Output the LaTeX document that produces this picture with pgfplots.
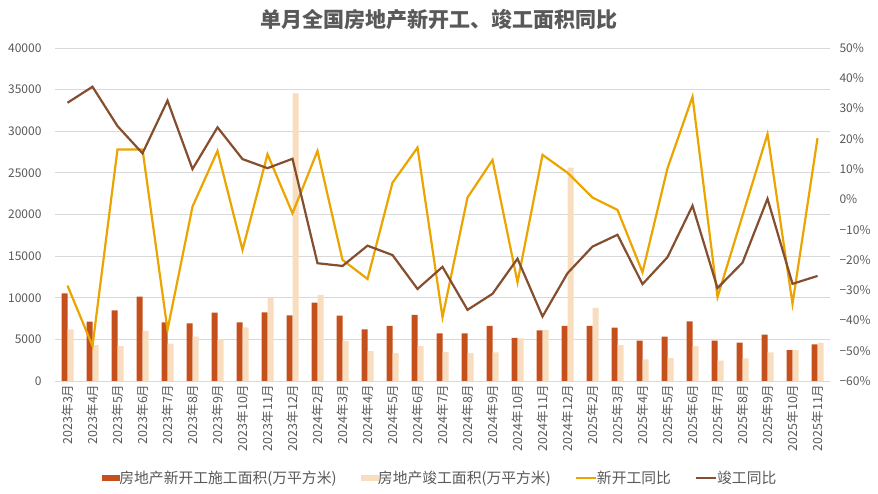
\documentclass[border=0pt]{standalone}
\usepackage{pgfplots}
\pgfplotsset{compat=1.18}
\usepackage{fontspec}
\setmainfont{Noto Sans CJK SC}
\definecolor{txt}{HTML}{595959}
\definecolor{darkbar}{HTML}{C5501C}
\definecolor{lightbar}{HTML}{F9DDBF}
\definecolor{yel}{HTML}{EBA400}
\definecolor{brn}{HTML}{844E2F}
\definecolor{gridc}{HTML}{D9D9D9}
\begin{document}
\begin{tikzpicture}
\path[use as bounding box] (0pt,0pt) rectangle (878pt,494pt);
\node[font=\fontsize{21}{24}\selectfont\bfseries, text=txt] at (439pt,474pt) {单月全国房地产新开工、竣工面积同比};
\pgfplotsset{
  common/.style={
    at={(55pt,113pt)}, anchor=south west, scale only axis,
    width=775pt, height=333pt,
    xmin=-0.5, xmax=30.5,
    major tick length=0pt,
    tick label style={text=txt},
    scaled y ticks=false,
    /pgf/number format/assume math mode=true,
  }
}
\begin{axis}[common,
  ymin=0, ymax=40000,
  ytick={0,5000,...,40000},
  yticklabels={0,5000,10000,15000,20000,25000,30000,35000,40000},
  yticklabel style={font=\fontsize{12}{14}\selectfont, xshift=-10pt},
  ymajorgrids, grid style={gridc, line width=0.8pt},
  axis line style={draw=none},
  xtick={0,...,30},
  xticklabels={2023年3月,2023年4月,2023年5月,2023年6月,2023年7月,2023年8月,2023年9月,2023年10月,2023年11月,2023年12月,2024年2月,2024年3月,2024年4月,2024年5月,2024年6月,2024年7月,2024年8月,2024年9月,2024年10月,2024年11月,2024年12月,2025年2月,2025年3月,2025年4月,2025年5月,2025年6月,2025年7月,2025年8月,2025年9月,2025年10月,2025年11月},
  xticklabel style={rotate=90, anchor=east, font=\fontsize{12.5}{14}\selectfont},
]
\addplot[ybar, bar width=6pt, bar shift=-3pt, fill=darkbar, draw=none] coordinates {
(0,10530)(1,7130)(2,8490)(3,10130)(4,7050)(5,6930)(6,8210)(7,7050)(8,8250)(9,7890)
(10,9410)(11,7850)(12,6210)(13,6610)(14,7930)(15,5730)(16,5730)(17,6610)(18,5170)(19,6090)(20,6610)
(21,6610)(22,6410)(23,4850)(24,5330)(25,7170)(26,4850)(27,4610)(28,5570)(29,3720)(30,4410)};
\addplot[ybar, bar width=6pt, bar shift=3pt, fill=lightbar, draw=none] coordinates {
(0,6210)(1,4320)(2,4200)(3,6010)(4,4490)(5,5330)(6,5010)(7,6450)(8,10010)(9,34560)
(10,10330)(11,4810)(12,3600)(13,3360)(14,4200)(15,3480)(16,3360)(17,3440)(18,5130)(19,6130)(20,25630)
(21,8770)(22,4320)(23,2600)(24,2760)(25,4200)(26,2440)(27,2720)(28,3440)(29,3720)(30,4570)};
\end{axis}
\begin{axis}[common,
  ymin=-60, ymax=50,
  ytick={-60,-50,...,50},
  yticklabels={−60\%,−50\%,−40\%,−30\%,−20\%,−10\%,0\%,10\%,20\%,30\%,40\%,50\%},
  yticklabel style={font=\fontsize{12}{14}\selectfont, xshift=6pt},
  axis y line*=right, axis x line=none,
  y axis line style={draw=none},
  legend columns=4,
  legend style={at={(0.497,-0.291)}, anchor=center, draw=none, fill=none,
    font=\fontsize{14.8}{16}\selectfont, text=txt,
    /tikz/every even column/.append style={column sep=22pt},
    /tikz/every odd column/.append style={column sep=-2pt}},
]
\addlegendimage{legend image code/.code={\fill[darkbar] (0pt,-2.5pt) rectangle (17pt,2.5pt);}}
\addlegendentry{房地产新开工施工面积(万平方米)}
\addlegendimage{legend image code/.code={\fill[lightbar] (0pt,-2.5pt) rectangle (17pt,2.5pt);}}
\addlegendentry{房地产竣工面积(万平方米)}
\addplot[yel, line width=2.2pt, legend image code/.code={\draw[yel, line width=2.2pt] (0pt,0pt) -- (20pt,0pt);}] coordinates {
(0,-28.5)(1,-48.4)(2,16.5)(3,16.5)(4,-43.1)(5,-2.4)(6,16.0)(7,-16.7)(8,14.9)(9,-4.6)
(10,16.0)(11,-20.0)(12,-26.3)(13,5.5)(14,17.1)(15,-38.9)(16,0.6)(17,13.0)(18,-27.4)(19,14.7)(20,8.8)
(21,0.6)(22,-3.5)(23,-24.1)(24,10.3)(25,33.9)(26,-32.3)(27,-5.4)(28,21.6)(29,-34.5)(30,20.2)};
\addlegendentry{新开工同比}
\addplot[brn, line width=2.2pt, legend image code/.code={\draw[brn, line width=2.2pt] (0pt,0pt) -- (20pt,0pt);}] coordinates {
(0,31.9)(1,37.2)(2,24.2)(3,15.2)(4,32.6)(5,10.0)(6,23.8)(7,13.3)(8,10.3)(9,13.4)
(10,-21.1)(11,-22.0)(12,-15.3)(13,-18.4)(14,-29.6)(15,-22.3)(16,-36.5)(17,-31.2)(18,-19.6)(19,-38.7)(20,-24.4)
(21,-15.6)(22,-11.7)(23,-28.0)(24,-19.1)(25,-2.1)(26,-29.3)(27,-20.9)(28,0.2)(29,-27.9)(30,-25.3)};
\addlegendentry{竣工同比}
\end{axis}
\end{tikzpicture}
\end{document}
